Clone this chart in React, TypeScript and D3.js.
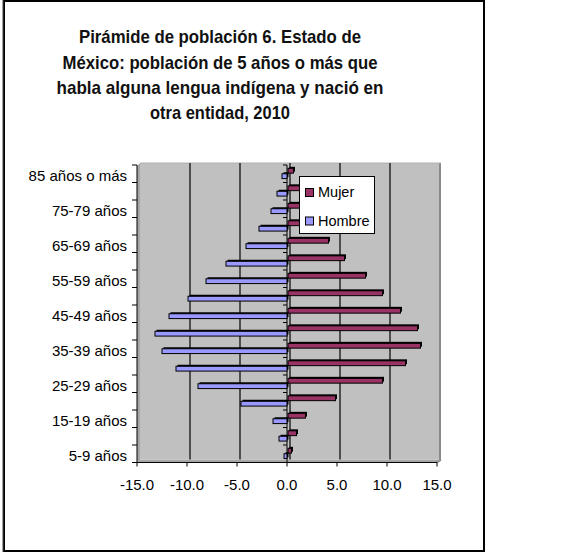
import React from "react";
import * as d3 from "d3";

const ageGroups = [
  "5-9 años", "10-14 años", "15-19 años", "20-24 años", "25-29 años",
  "30-34 años", "35-39 años", "40-44 años", "45-49 años", "50-54 años",
  "55-59 años", "60-64 años", "65-69 años", "70-74 años", "75-79 años",
  "80-84 años", "85 años o más",
];
const mujer = [0.3, 0.8, 1.7, 4.7, 9.4, 11.7, 13.2, 12.9, 11.2, 9.4, 7.7, 5.6, 4.0, 3.0, 2.0, 1.3, 0.5];
const hombre = [-0.3, -0.8, -1.4, -4.6, -8.9, -11.1, -12.5, -13.2, -11.8, -9.9, -8.1, -6.1, -4.1, -2.8, -1.6, -1.0, -0.5];
const xTicks = [-15, -10, -5, 0, 5, 10, 15];
const seriesNames = ["Mujer", "Hombre"];
const seriesColors = ["#993366", "#9999ff"];
const titleLines = [
  "Pirámide de población 6. Estado de",
  "México: población de 5 años o más que",
  "habla alguna lengua indígena y nació en",
  "otra entidad, 2010",
];
const titleWidths = [282, 315, 327, 140];

const FONT = "'Liberation Sans', Arial, sans-serif";

export default function App() {
  const W = 579, H = 553;
  const x = d3.scaleLinear().domain([-15, 15]).range([137, 437]);
  const top = 165, bottom = 462.5;
  const cats = [...ageGroups].reverse();
  const y = d3.scaleBand<string>().domain(cats).range([top, bottom]).paddingInner(0.38).paddingOuter(0.19);
  const inner = d3.scaleBand<string>().domain(seriesNames).range([0, y.bandwidth()]);
  const step = y.step();
  const D = 3; // 3D depth offset
  const wallL = 137 + D, wallT = top - 2, wallR = 441, wallB = bottom - D;
  const boundaries = d3.range(ageGroups.length + 1).map((i) => top + i * step);
  const x0 = x(0);

  const bars: React.ReactNode[] = [];
  ageGroups.forEach((g, i) => {
    const vals = [mujer[i], hombre[i]];
    vals.forEach((v, s) => {
      const yy = (y(g) as number) + (inner(seriesNames[s]) as number);
      const h = inner.bandwidth() - 0.6;
      let xa: number, xb: number;
      if (v >= 0) { xa = x0 + 1; xb = x(v) + 1.5; } else { xa = x(v); xb = x0; }
      bars.push(
        <g key={g + s}>
          <rect x={xa + 1.5} y={yy - 1.5} width={Math.max(0, xb - xa)} height={h} fill="#000" />
          <rect x={xa} y={yy} width={Math.max(0, xb - xa)} height={h} fill={seriesColors[s]} stroke="#000" strokeWidth={1} />
        </g>
      );
    });
  });

  return (
    <svg width={W} height={H} style={{ position: "absolute", left: 0, top: 0, background: "#fff" }} fontFamily={FONT}>
      {/* frame */}
      <rect x={4} y={1} width={480} height={550} fill="#fff" stroke="#000" strokeWidth={2} />
      <line x1={3} y1={0} x2={3} y2={552} stroke="#444" strokeWidth={1} />

      {/* title */}
      {titleLines.map((t, i) => (
        <text key={i} x={220} y={43.3 + i * 25.3} textAnchor="middle" fontSize={19} fontWeight="bold" fill="#111"
          textLength={titleWidths[i]} lengthAdjust="spacingAndGlyphs">{t}</text>
      ))}

      {/* walls */}
      <polygon points={`${137},${top + 1} ${wallL},${wallT} ${wallL},${wallB} ${137},${bottom}`} fill="#a6a6a6" />
      <polygon points={`${137},${bottom} ${wallL},${wallB} ${wallR},${wallB} ${437},${bottom}`} fill="#a6a6a6" />
      <rect x={wallL} y={wallT} width={wallR - wallL} height={wallB - wallT} fill="#c0c0c0" />
      <line x1={wallR - 1} y1={wallT} x2={wallR - 1} y2={wallB} stroke="#8a8a8a" strokeWidth={2} />
      <line x1={wallL} y1={wallT} x2={wallR} y2={wallT} stroke="#b0b0b0" strokeWidth={1} />
      <line x1={437} y1={bottom} x2={wallR} y2={wallB} stroke="#8a8a8a" strokeWidth={2} />

      {/* gridlines */}
      {xTicks.filter((t) => t !== -15 && t !== 15).map((t) => (
        <line key={t} x1={x(t) + D} y1={wallT} x2={x(t) + D} y2={wallB} stroke="#000" strokeWidth={1.2} />
      ))}

      {/* central category axis */}
      <line x1={x0} y1={top} x2={x0} y2={bottom} stroke="#000" strokeWidth={1} />
      {boundaries.map((b, i) => (
        <line key={"c" + i} x1={x0 - 4} y1={b} x2={x0} y2={b} stroke="#000" strokeWidth={1} />
      ))}

      {bars}

      {/* left axis */}
      <line x1={137} y1={top} x2={137} y2={bottom} stroke="#000" strokeWidth={1} />
      {boundaries.map((b, i) => (
        <line key={"l" + i} x1={132} y1={b} x2={137} y2={b} stroke="#000" strokeWidth={1} />
      ))}
      {ageGroups.map((g, i) => i % 2 === 0 ? (
        <text key={g} x={127} y={(y(g) as number) - step * 0.19 + step / 2 + 7} textAnchor="end" fontSize={15} fill="#000">{g}</text>
      ) : null)}

      {/* bottom axis */}
      <line x1={137} y1={bottom} x2={437} y2={bottom} stroke="#000" strokeWidth={1} />
      {xTicks.map((t) => (
        <g key={t}>
          <line x1={x(t)} y1={bottom} x2={x(t)} y2={bottom + 4} stroke="#000" strokeWidth={1} />
          <text x={x(t)} y={490} textAnchor="middle" fontSize={15} fill="#000">{t.toFixed(1)}</text>
        </g>
      ))}

      {/* legend */}
      <rect x={299.5} y={176.5} width={75} height={57} fill="#fff" stroke="#000" strokeWidth={1} />
      {seriesNames.map((s, i) => (
        <g key={s}>
          <rect x={305.5} y={188.5 + i * 28.5} width={8} height={8} fill={seriesColors[i]} stroke="#000" strokeWidth={1} />
          <text x={318} y={197 + i * 29} fontSize={14.5} fill="#000">{s}</text>
        </g>
      ))}
    </svg>
  );
}
